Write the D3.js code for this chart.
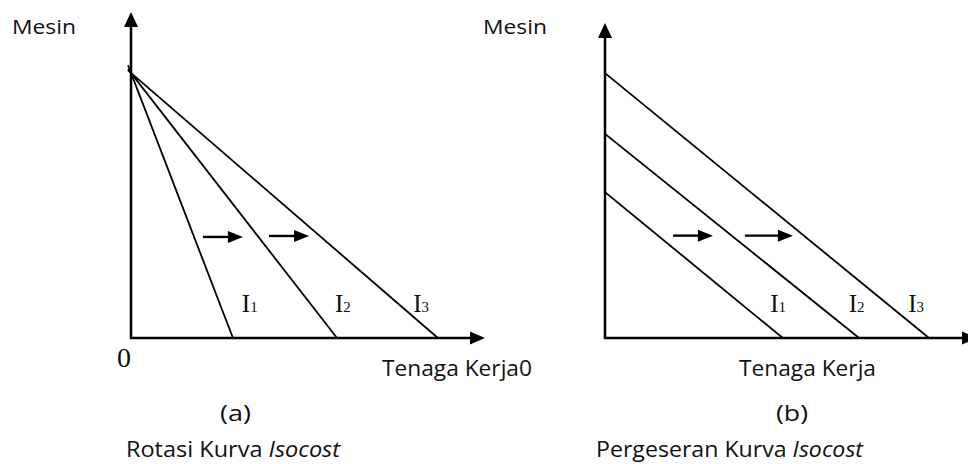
<!DOCTYPE html>
<html lang="en">
<head>
  <meta charset="UTF-8">
  <title>Rotasi dan Pergeseran Kurva Isocost</title>
  <style>
    body { margin: 0; background: #fff; overflow: hidden; }
    svg { display: block; background: #fff; }
    .sans { font-family: "Open Sans", sans-serif; fill: #111; }
    .serif { font-family: "Liberation Serif", "Times New Roman", serif; fill: #111; }
    .axis { stroke: #000; stroke-width: 2.5px; fill: none; }
    .isocost { stroke: #000; stroke-width: 1.8px; fill: none; }
  </style>
</head>
<body>
  <svg width="968" height="464"></svg>

  <script src="https://d3js.org/d3.v7.min.js"></script>
  <script>
    // panel (a): rotation, all lines share one Mesin intercept
    const curvesA = ["I1", "I2", "I3"];
    const yInterceptA = [8.13, 8.13, 8.13];
    const xInterceptA = [2.88, 5.82, 8.67];
    const labelXA = [3.13, 5.76, 7.97];
    const shiftA = [[2.03, 3.16, 3.1], [3.9, 5.03, 3.13]]; // from x, to x, at y

    // panel (b): parallel shift
    const curvesB = ["I1", "I2", "I3"];
    const yInterceptB = [4.63, 6.48, 8.41];
    const xInterceptB = [4.78, 6.83, 8.71];
    const labelXB = [4.44, 6.55, 8.15];
    const shiftB = [[1.83, 2.9, 3.25], [3.76, 5.05, 3.25]];

    const svg = d3.select("svg");

    function head(g, x, y, dir, len, w) {
      // filled triangle, dir "up" or "right"
      const pts = dir === "up"
        ? [[x, y], [x - w / 2, y + len], [x + w / 2, y + len]]
        : [[x, y], [x - len, y - w / 2], [x - len, y + w / 2]];
      g.append("path").attr("d", d3.line()(pts) + "Z").attr("fill", "#000");
    }

    function panel(opt) {
      const g = svg.append("g");
      const x = d3.scaleLinear().domain([0, 10]).range(opt.xRange);
      const y = d3.scaleLinear().domain([0, 10]).range(opt.yRange);

      // axes
      g.append("path").attr("class", "axis")
        .attr("d", d3.line()([[x(0), y(10) + 12], [x(0), y(0)], [x(10) - 12, y(0)]]));
      head(g, x(0), y(10), "up", 15, 14);
      head(g, x(10), y(0), "right", 15, 13);

      // isocost lines
      g.selectAll(".isocost").data(opt.names).join("line")
        .attr("class", "isocost")
        .attr("x1", (d, i) => x(0) - (opt.overshoot ? 3 : 0))
        .attr("y1", (d, i) => y(opt.yInt[i]) - (opt.overshoot ? 3 * (y(0) - y(opt.yInt[i])) / (x(opt.xInt[i]) - x(0)) : 0))
        .attr("x2", (d, i) => x(opt.xInt[i]))
        .attr("y2", y(0));

      // labels I1..I3
      const lab = g.selectAll(".ilab").data(opt.names).join("text")
        .attr("class", "serif ilab")
        .attr("x", (d, i) => x(opt.labelX[i]))
        .attr("y", y(0) - 26)
        .style("font-size", "25px");
      lab.append("tspan").text(d => d[0]);
      lab.append("tspan").style("font-size", "15px").text(d => d.slice(1));

      // shift arrows
      opt.shifts.forEach(s => {
        g.append("line")
          .attr("x1", x(s[0])).attr("x2", x(s[1]) - 10)
          .attr("y1", y(s[2])).attr("y2", y(s[2]))
          .attr("stroke", "#000").attr("stroke-width", 2.4);
        head(g, x(s[1]), y(s[2]), "right", 15, 12);
      });
      return g;
    }

    panel({
      xRange: [131, 485], yRange: [338, 12], overshoot: true,
      names: curvesA, yInt: yInterceptA, xInt: xInterceptA,
      labelX: labelXA, shifts: shiftA
    });
    panel({
      xRange: [605, 977], yRange: [338, 23], overshoot: false,
      names: curvesB, yInt: yInterceptB, xInt: xInterceptB,
      labelX: labelXB, shifts: shiftB
    });

    // texts
    function label(txt, x, y, w, size, italicTail) {
      const t = svg.append("text").attr("class", "sans")
        .attr("x", x).attr("y", y)
        .style("font-size", size + "px")
        .attr("textLength", w).attr("lengthAdjust", "spacingAndGlyphs");
      t.append("tspan").text(txt);
      if (italicTail) t.append("tspan").style("font-style", "italic").text(italicTail);
    }
    label("Mesin", 12, 34, 64, 20);
    label("Mesin", 483, 34, 64, 20);
    label("Tenaga Kerja0", 382, 376, 150, 21);
    label("Tenaga Kerja", 739, 376, 137, 21);
    label("(a)", 220, 421, 31, 21);
    label("(b)", 776, 421, 32, 21);
    label("Rotasi Kurva ", 126, 457, 214, 21, "Isocost");
    label("Pergeseran Kurva ", 596, 457, 267, 21, "Isocost");

    svg.append("text").attr("class", "serif")
      .attr("x", 117).attr("y", 367)
      .style("font-size", "28px")
      .text("0");
  </script>
</body>
</html>
